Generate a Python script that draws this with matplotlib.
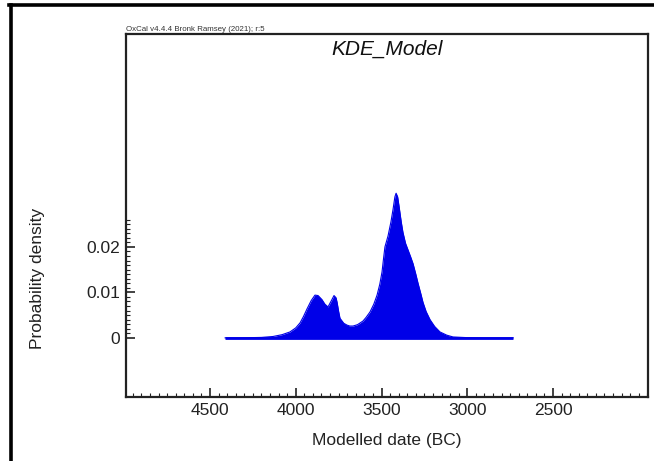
import matplotlib
matplotlib.use("Agg")
import matplotlib.pyplot as plt
import numpy as np
from matplotlib.lines import Line2D

plt.rcParams['font.family'] = ['Liberation Sans', 'DejaVu Sans']

# ---- data ----
years = [4412, 4300, 4200, 4133, 4080, 4034, 4000, 3975, 3955, 3934, 3910, 3888,
         3870, 3847, 3830, 3812, 3795, 3777, 3765, 3759, 3750, 3742, 3720, 3701,
         3685, 3666, 3640, 3608, 3590, 3567, 3545, 3526, 3510, 3497, 3488, 3480,
         3462, 3445, 3433, 3422, 3415, 3406, 3398, 3385, 3375, 3360, 3345, 3330,
         3316, 3300, 3287, 3270, 3258, 3240, 3217, 3190, 3159, 3120, 3083, 3001,
         2900, 2733]
density = [0.0, 0.00002, 0.0001, 0.0003, 0.0007, 0.0013, 0.0022, 0.0033, 0.0047,
           0.0064, 0.0082, 0.0094, 0.0093, 0.0084, 0.0074, 0.0068, 0.0080, 0.0093,
           0.0088, 0.0078, 0.0058, 0.0043, 0.0032, 0.0028, 0.0026, 0.0026, 0.0029,
           0.0037, 0.0045, 0.0057, 0.0074, 0.0094, 0.0118, 0.0145, 0.0175, 0.0200,
           0.0224, 0.0255, 0.0282, 0.0310, 0.0318, 0.0310, 0.0290, 0.0255, 0.0232,
           0.0208, 0.0193, 0.0178, 0.0163, 0.0140, 0.0120, 0.0096, 0.0078, 0.0058,
           0.0040, 0.0025, 0.0013, 0.0006, 0.0002, 0.00005, 0.0, 0.0]
x_major = [4500, 4000, 3500, 3000, 2500]
x_labels = ["4500", "4000", "3500", "3000", "2500"]
y_major = [0.0, 0.01, 0.02]
y_labels = ["0", "0.01", "0.02"]
title = "KDE_Model"
header = "OxCal v4.4.4 Bronk Ramsey (2021); r:5"

W, H = 654, 461
fig = plt.figure(figsize=(W / 100, H / 100), dpi=100)
left, right, top, bottom = 126, 648, 34, 397
ax = fig.add_axes([left / W, 1 - bottom / H, (right - left) / W, (bottom - top) / H])

blue = '#0000E8'
ax.fill_between(years, 0, density, color=blue, lw=0)
ax.plot(years, density, color=blue, lw=0.8)
ax.plot([years[0], years[-1]], [0, 0], color=blue, lw=2.0, solid_capstyle='butt')

ax.set_xlim(4990, 1946)
ax.set_ylim(-0.013, 0.0668)

ax.set_xticks(x_major)
ax.set_xticklabels(x_labels)
ax.set_xticks(np.arange(4950, 1949, -50), minor=True)
ax.set_yticks(y_major)
ax.set_yticklabels(y_labels)
ax.set_yticks(np.arange(0, 0.02601, 0.001), minor=True)

ax.tick_params(axis='both', which='both', direction='in', top=False, right=False,
               colors='#222222', labelcolor='#222222')
ax.tick_params(axis='both', which='major', length=6.5, width=1.2, labelsize=12.5, pad=4)
ax.tick_params(axis='both', which='minor', length=3.2, width=0.8)
for s in ax.spines.values():
    s.set_linewidth(1.6)
    s.set_color('#222222')

ax.set_xlabel("Modelled date (BC)", fontsize=12.5, color='#222222')
ax.xaxis.set_label_coords(0.5, -(433 - bottom) / (bottom - top))
ax.set_ylabel("Probability density", fontsize=12.5, color='#222222')
ax.yaxis.set_label_coords((45 - left) / (right - left), (397 - 278) / (397 - 34))

ax.text(0.5, 0.985, title, transform=ax.transAxes, ha='center', va='top',
        fontsize=15, style='italic', color='#111111')
fig.text(left / W, 1 - 33 / H, header, ha='left', va='bottom', fontsize=5.7,
         color='#333333')

# outer frame (top and left border)
fig.add_artist(Line2D([9 / W, 1], [1 - 5 / H, 1 - 5 / H], transform=fig.transFigure,
                      color='black', lw=2.6))
fig.add_artist(Line2D([11 / W, 11 / W], [0, 1 - 5 / H], transform=fig.transFigure,
                      color='black', lw=2.6))

fig.savefig("out.png", dpi=100)
